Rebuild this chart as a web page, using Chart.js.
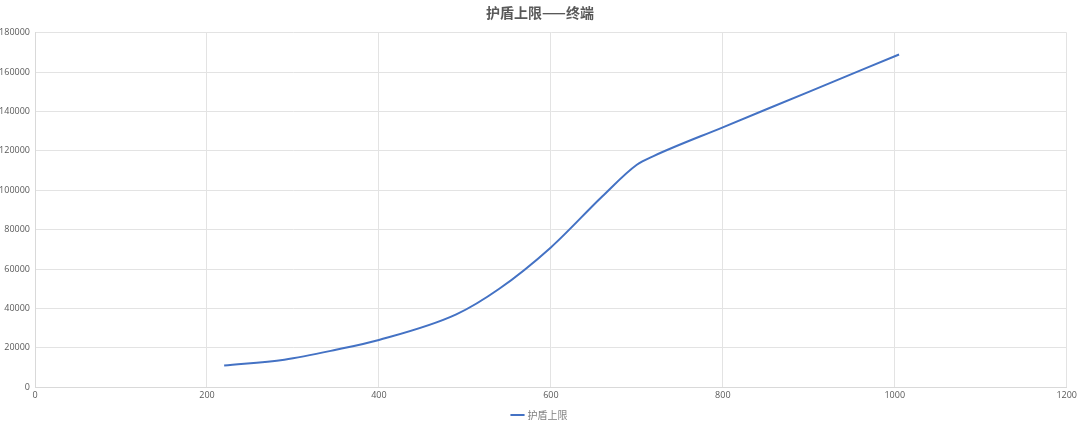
<!DOCTYPE html>
<html><head><meta charset="utf-8">
<script src="https://cdn.jsdelivr.net/npm/chart.js@4/dist/chart.umd.min.js"></script>
<style>html,body{margin:0;padding:0;background:#fff;}#c{display:block;}</style>
</head><body>
<canvas id="c" width="1080" height="430"></canvas>
<script>
const levels = [220, 290, 350, 400, 490, 540, 600, 660, 700, 720, 800, 900, 1005];
const shieldCap = [11000, 14000, 19000, 24000, 37000, 50000, 71000, 97000, 113000, 117500, 132000, 150000, 169000];
const seriesName = '护盾上限';
const chartTitle = '护盾上限——终端';

const pts = levels.map((x, i) => ({x: x, y: shieldCap[i]}));
const tickColor = '#595959';
const gridColor = '#e3e3e3';

new Chart(document.getElementById('c'), {
  type: 'scatter',
  data: { datasets: [{
    label: seriesName,
    data: pts,
    showLine: true,
    borderColor: '#4472C4',
    backgroundColor: '#4472C4',
    borderWidth: 2,
    pointRadius: 0,
    cubicInterpolationMode: 'monotone'
  }]},
  options: {
    responsive: false,
    animation: false,
    layout: { padding: { left: 0, right: 0, top: 0, bottom: 0 } },
    plugins: {
      title: { display: true, text: chartTitle, color: '#595959',
        font: { family: '"Noto Sans CJK SC"', size: 14, weight: 'bold' },
        padding: { top: 4, bottom: 12 } },
      legend: { position: 'bottom',
        labels: { color: '#7f7f7f', usePointStyle: true, pointStyle: 'line', boxWidth: 20,
          font: { family: '"Noto Sans CJK SC"', size: 10 }, padding: 6 } },
      tooltip: { enabled: false }
    },
    scales: {
      x: { type: 'linear', min: 0, max: 1200,
        ticks: { stepSize: 200, color: tickColor, font: { family: '"Open Sans"', size: 9 }, maxRotation: 0,
          callback: v => String(v) },
        grid: { color: gridColor, drawTicks: false },
        border: { color: '#d9d9d9' } },
      y: { min: 0, max: 180000,
        afterFit: s => { s.width = 35; },
        ticks: { stepSize: 20000, color: tickColor, font: { family: '"Open Sans"', size: 9 }, padding: 5,
          callback: v => String(v) },
        grid: { color: gridColor, drawTicks: false },
        border: { color: '#d9d9d9' } }
    }
  }
});
</script>
</body></html>
